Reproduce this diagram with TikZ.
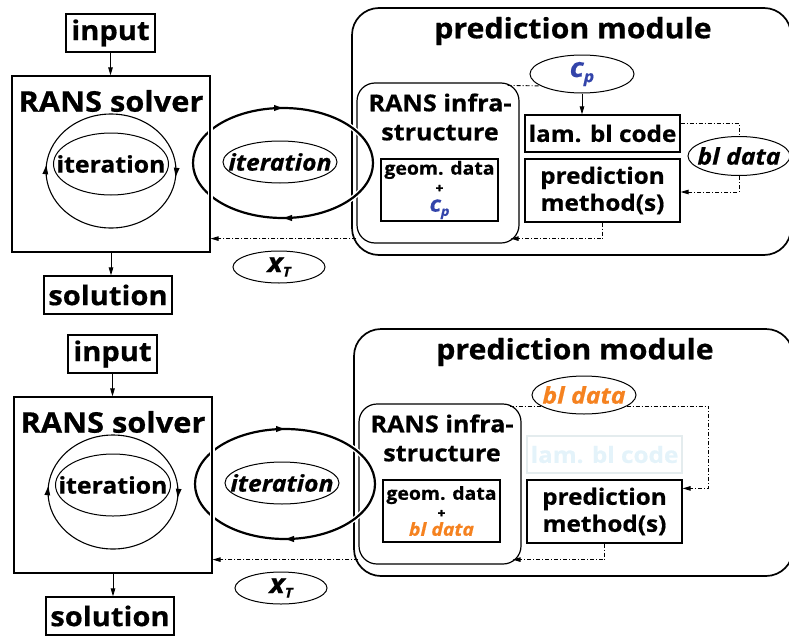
\documentclass[tikz,border=0pt]{standalone}
\usepackage{fontspec}
\setmainfont{Open Sans}[FakeStretch=1.08, FakeBold=0.6]
\usepackage{tikz}
\usetikzlibrary{calc,arrows.meta,decorations.markings,shapes.geometric}
\definecolor{ink}{HTML}{000000}
\definecolor{cpblue}{HTML}{3344AA}
\definecolor{blorange}{HTML}{F58220}
\definecolor{ghost}{HTML}{E4F3FA}
\definecolor{ghostedge}{HTML}{E4ECEE}
\tikzset{
  plainBox/.style={draw=ink, line width=1.2pt, inner sep=0pt},
  roundBox/.style={draw=ink, line width=1.2pt, rounded corners=18pt, inner sep=0pt},
  moduleBox/.style={draw=ink, line width=1.7pt, rounded corners=27pt, inner sep=0pt},
  oval/.style={ellipse, draw=ink, line width=1pt, fill=white, inner sep=0pt},
  ringLine/.style={draw=ink, line width=1.1pt},
  loopLine/.style={draw=ink, line width=2.2pt, preaction={draw=white, line width=5pt}},
  loopArrows/.style 2 args={postaction={decorate, decoration={markings,
      mark=at position #1 with {\arrow{Triangle[length=9pt,width=5.5pt]}},
      mark=at position #2 with {\arrow{Triangle[length=9pt,width=5.5pt]}}}}},
  flowLine/.style={draw=ink, line width=0.9pt, dash pattern=on 4pt off 2pt on 1pt off 2pt},
  flowArrow/.style={flowLine, -{Triangle[length=8pt,width=4.5pt]}},
  feedArrow/.style={draw=ink, line width=0.9pt, -{Triangle[length=8pt,width=4.5pt]}},
  titleLbl/.style={font=\bfseries\fontsize{28}{32}\selectfont},
  bigLbl/.style={font=\bfseries\fontsize{27}{30}\selectfont},
  solverLbl/.style={font=\bfseries\fontsize{28.5}{30}\selectfont},
  iterLbl/.style={font=\bfseries\fontsize{23}{26}\selectfont},
  iterItLbl/.style={font=\bfseries\itshape\fontsize{23}{26}\selectfont},
  symLbl/.style={font=\bfseries\itshape\fontsize{27}{28}\selectfont},
  infraLbl/.style={font=\bfseries\fontsize{23.3}{29}\selectfont, align=center},
  boxLbl/.style={font=\bfseries\fontsize{22.5}{27}\selectfont, align=center},
  smallLbl/.style={font=\bfseries\fontsize{18}{17}\selectfont, align=center},
}
\newcommand{\cpSym}{\textit{c\raisebox{-0.35ex}{\scalebox{0.6}{p}}}}
\newcommand{\xTSym}{\textit{x\raisebox{-0.3ex}{\scalebox{0.5}{T}}}}
\newcommand{\plusSym}{{\fontsize{13}{17}\selectfont +}}
\newcommand{\ovalText}[1]{\makebox[0pt]{#1}}
% left side: input, solver with its own loop, solution
\newcommand{\SolverSide}{%
  \node[plainBox, minimum width=89pt, minimum height=38pt, bigLbl] (inputBox) at (110.5,33) {input};
  \node[plainBox, preaction={draw=white, line width=5pt}, minimum width=198pt, minimum height=176pt] (solver) at (111,164) {};
  \node[solverLbl] (solverLbl) at (111,101) {RANS solver};
  \coordinate (ringC) at (111,171);
  \draw[ringLine, loopArrows={0.015}{0.515}] (ringC) ellipse [x radius=65, y radius=57];
  \node[oval, minimum width=115pt, minimum height=62pt, iterLbl] (iterIn) at (111,164) {\ovalText{iteration}};
  \node[plainBox, minimum width=128pt, minimum height=38pt, bigLbl] (solBox) at (108,295) {solution};
  \draw[feedArrow] (inputBox.south) -- (inputBox.south |- solver.north);
  \draw[feedArrow] (solver.south) -- (solver.south |- solBox.north);
}
% right side: module frame, infrastructure, prediction method, outer loop
\newcommand{\ModuleFrame}{%
  \node[moduleBox, minimum width=439pt, minimum height=247pt] (module) at (571.5,131.5) {};
  \node[titleLbl] (moduleLbl) at (573,31) {prediction module};
  \node[roundBox, minimum width=162pt, minimum height=160pt] (infra) at (438,163) {};
  \node[infraLbl] (infraLbl) at (440,117) {RANS infra-\\structure};
  \node[plainBox, minimum width=155pt, minimum height=63pt, boxLbl] (pred) at (602.5,190.5) {prediction\\method(s)};
  \coordinate (loopC) at (283,163);
  \draw[loopLine, loopArrows={0.25}{0.75}] (loopC) ellipse [x radius=90, y radius=55];
  \node[oval, minimum width=114pt, minimum height=42pt, iterItLbl] (iterOut) at (280,162) {\ovalText{iteration}};
  \node[oval, minimum width=92pt, minimum height=32pt, symLbl] (xT) at (279,267) {\ovalText{\xTSym}};
  \coordinate (infraTop) at ([xshift=-12pt,yshift=-3pt]infra.north east);
  \draw[flowArrow] (pred.south) |- ([xshift=-9pt,yshift=5pt]infra.south east);
}

\begin{document}
\begin{tikzpicture}[x=1pt, y=-1pt]
  \useasboundingbox (0,0) rectangle (789,637);
  \clip (0,0) rectangle (789,637);

  % upper panel: c_p handed to the laminar bl code
  \begin{scope}
    \ModuleFrame
    \SolverSide
    \coordinate (back) at ([yshift=5pt]infra.south west);
    \draw[flowArrow] (back) -- (back -| solver.east);
    \node[plainBox, minimum width=117pt, minimum height=62pt, smallLbl] (geom) at (439.5,190)
      {geom. data\\[1pt]\plusSym\\[2pt]{\fontsize{22}{17}\selectfont\color{cpblue}\cpSym}};
    \node[plainBox, minimum width=155pt, minimum height=37pt, boxLbl] (lam) at (602.5,133.5) {lam. bl code};
    \node[oval, minimum width=104pt, minimum height=38pt, symLbl, text=cpblue] (cp) at (582,74) {\ovalText{\cpSym}};
    \draw[flowLine] (infraTop) -- (cp.196);
    \draw[feedArrow] (cp.south) -- (cp.south |- lam.north);
    \node[oval, minimum width=102pt, minimum height=39pt, iterItLbl] (bl) at (739,156) {\ovalText{bl data}};
    \draw[flowLine] ([yshift=10pt]lam.east) -| (bl.north);
    \draw[flowArrow] (bl.south) |- ([yshift=-1.5pt]pred.east);
  \end{scope}

  % lower panel: bl data given directly
  \begin{scope}[shift={(2,321)}]
    \ModuleFrame
    \SolverSide
    \coordinate (back) at ([yshift=5pt]infra.south west);
    \draw[flowArrow] (back) -- (back -| solver.east);
    \node[plainBox, minimum width=117pt, minimum height=62pt, smallLbl] (geom) at (439.5,190)
      {geom. data\\[1pt]\plusSym\\[1pt]{\fontsize{18}{17}\selectfont\color{blorange}\itshape bl data}};
    \node[plainBox, draw=ghostedge, text=ghost, minimum width=155pt, minimum height=37pt, boxLbl] (lam) at (602.5,133.5) {lam. bl code};
    \coordinate (turn) at ([xshift=26pt]lam.east);
    \draw[flowArrow] (infraTop) -- (infraTop -| turn) |- ([yshift=-9pt]pred.north east);
    \node[oval, minimum width=104pt, minimum height=38pt, iterItLbl, text=blorange] (blTop) at (582,74) {\ovalText{bl data}};
  \end{scope}
\end{tikzpicture}
\end{document}
